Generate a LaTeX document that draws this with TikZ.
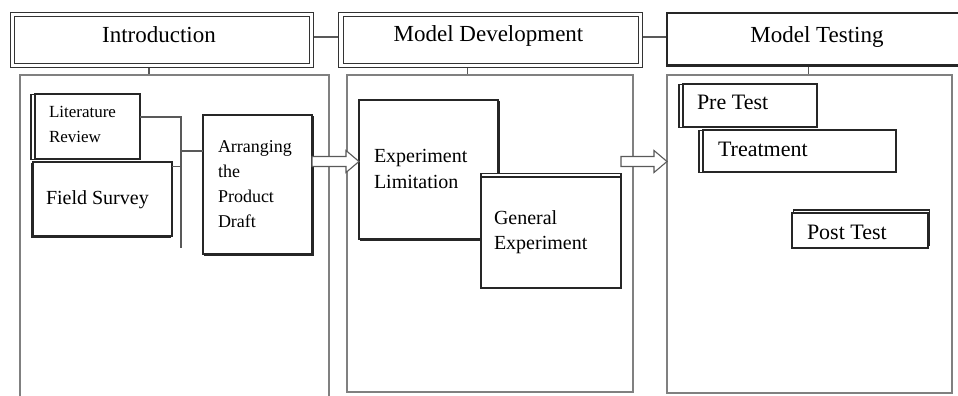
\documentclass[tikz,border=0pt]{standalone}
\usepackage{fontspec}
\setmainfont{Liberation Serif}
\usetikzlibrary{calc,shadows,backgrounds}

% block arrow from #1 to #2 (both named coordinates)
\newcommand\blockarr[2]{%
  \draw[fatarrow] ($(#1)+(0,-5)$) -- ($(#2)+(-13,-5)$) -- ($(#2)+(-13,-11)$)
    -- (#2) -- ($(#2)+(-13,11)$) -- ($(#2)+(-13,5)$) -- ($(#1)+(0,5)$) -- cycle;}

\begin{document}
\begin{tikzpicture}[x=1pt,y=-1pt,
  every node/.style={inner sep=0pt, outer sep=0pt},
  panel/.style={draw=black!50, line width=1.5pt, rectangle, anchor=north west},
  header/.style={draw=black!80, line width=1pt, double=white, double distance=3.5pt,
    fill=white, rectangle, anchor=north west},
  box/.style={draw=black!85, line width=1.1pt, fill=white, rectangle, anchor=north west},
  shl/.style={copy shadow={shadow xshift=-4pt, shadow yshift=-0.5pt, draw=black!85}},
  shrb/.style={copy shadow={shadow xshift=1.6pt, shadow yshift=-1.6pt, draw=black!85}},
  shlb/.style={copy shadow={shadow xshift=-1.6pt, shadow yshift=-1.6pt, draw=black!85}},
  sht/.style={copy shadow={shadow xshift=0pt, shadow yshift=3.5pt, draw=black!85}},
  shtr/.style={copy shadow={shadow xshift=1.5pt, shadow yshift=3pt, draw=black!85}},
  link/.style={draw=black!65, line width=1.3pt},
  fatarrow/.style={draw=black!65, fill=white, line width=1.1pt, line join=miter},
  hd/.style={font=\fontsize{23}{27}\selectfont, anchor=base},
  txt/.style={anchor=base west},
]
\useasboundingbox (0,0) rectangle (958,396);

% column headers
\node[header, minimum width=299, minimum height=51] (intro) at (12.5,14.5) {};
\node[header, minimum width=299.5, minimum height=51] (dev) at (341,14.5) {};
\node[box, line width=1.8pt, minimum width=300, minimum height=52,
  copy shadow={shadow xshift=0pt, shadow yshift=-1.2pt, draw=black!85}] (tst) at (667,13) {};

% column panels
\node[panel, minimum width=309, minimum height=345] (ipanel) at (20,75) {};
\node[panel, minimum width=286, minimum height=317] (dpanel) at (347,75) {};
\node[panel, minimum width=285, minimum height=318] (tpanel) at (667,75) {};

% header links
\begin{scope}[on background layer]
  \draw[link] ([yshift=3pt]intro.east) -- ([yshift=3pt]intro.east -| dev.west);
  \draw[link] ([yshift=3pt]dev.east) -- ([yshift=3pt]dev.east -| tst.west);
  \draw[link] ([xshift=-13pt]intro.south) -- ([xshift=-13pt]intro.south |- ipanel.north);
  \draw[link] ([xshift=-23pt]dev.south) -- ([xshift=-23pt]dev.south |- dpanel.north);
  \draw[link] ([xshift=-8.5pt]tst.south) -- ([xshift=-8.5pt]tst.south |- tpanel.north);
\end{scope}

% introduction column
\node[box, shl, minimum width=105, minimum height=65] (lit) at (35,94) {};
\node[box, shlb, minimum width=139, minimum height=74] (fs) at (33,162) {};
\node[box, shrb, minimum width=109, minimum height=139] (arr) at (203,115) {};
\coordinate (barend) at (181,248);
\draw[link] ([yshift=9.5pt]lit.east) -| (barend);
\draw[link] ([yshift=32.5pt]fs.east) -- ([yshift=32.5pt]fs.east -| barend);
\draw[link] ([yshift=33.5pt]arr.west -| barend) -- ([yshift=33.5pt]arr.west);

% model development column
\node[box, shrb, minimum width=139, minimum height=139] (el) at (359,100) {};
\node[box, sht, minimum width=140, minimum height=111] (ge) at (481,177) {};

% model testing column
\node[box, shl, minimum width=134, minimum height=43] (pre) at (683,84) {};
\node[box, shl, minimum width=193, minimum height=42] (trt) at (703,130) {};
\node[box, shtr, minimum width=136, minimum height=35] (post) at (792,213) {};

% block arrows between columns
\coordinate (a1s) at ([yshift=23pt]arr.east);
\coordinate (a1e) at ([yshift=8pt]el.west);
\coordinate (a2s) at ([yshift=71pt]ge.east);
\coordinate (a2e) at ([yshift=72.5pt]tpanel.west);
\blockarr{a1s}{a1e}
\blockarr{a2s}{a2e}

% texts
\node[hd] (t-intro) at (159,43) {Introduction};
\node[hd] (t-dev) at (488.5,42) {Model Development};
\node[hd] (t-tst) at (817,43) {Model Testing};

\begin{scope}[font=\fontsize{17}{20}\selectfont]
  \node[txt] (t-lit1) at (49,117) {Literature};
  \node[txt] (t-lit2) at (49,142) {Review};
\end{scope}
\node[txt, font=\fontsize{20}{24}\selectfont] (t-fs) at (46,204) {Field Survey};
\begin{scope}[font=\fontsize{18}{22}\selectfont]
  \node[txt] (t-arr1) at (218,152) {Arranging};
  \node[txt] (t-arr2) at (218,177) {the};
  \node[txt] (t-arr3) at (218,202) {Product};
  \node[txt] (t-arr4) at (218,227) {Draft};
\end{scope}
\begin{scope}[font=\fontsize{20}{24}\selectfont]
  \node[txt] (t-el1) at (374,162) {Experiment};
  \node[txt] (t-el2) at (374,188) {Limitation};
  \node[txt] (t-ge1) at (494,224) {General};
  \node[txt] (t-ge2) at (494,249) {Experiment};
\end{scope}
\begin{scope}[font=\fontsize{22}{26}\selectfont]
  \node[txt] (t-pre) at (697,109) {Pre Test};
  \node[txt] (t-trt) at (718,156) {Treatment};
  \node[txt] (t-post) at (807,239) {Post Test};
\end{scope}
\end{tikzpicture}
\end{document}
